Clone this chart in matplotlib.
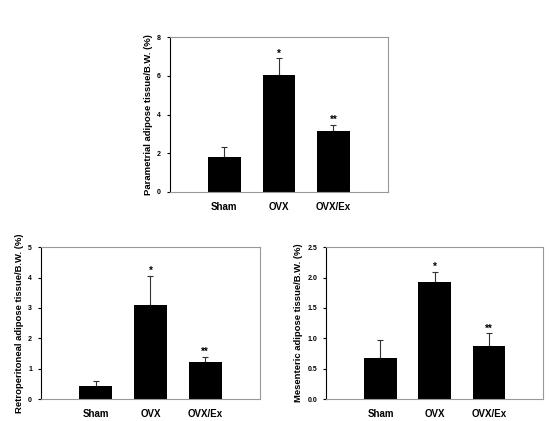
import matplotlib
matplotlib.use("Agg")
import matplotlib.pyplot as plt

groups = ["Sham", "OVX", "OVX/Ex"]
marks = ["", "*", "**"]

para_vals = [1.8, 6.05, 3.15]
para_err = [0.5, 0.85, 0.3]
retro_vals = [0.42, 3.08, 1.23]
retro_err = [0.18, 0.97, 0.15]
mes_vals = [0.67, 1.92, 0.88]
mes_err = [0.31, 0.17, 0.2]

plt.rcParams['font.family'] = ['Liberation Sans', 'DejaVu Sans']

fig = plt.figure(figsize=(5.5, 4.21), dpi=100)

def panel(rect, vals, errs, ylabel, ymax, yticks, yticklabels):
    ax = fig.add_axes(rect)
    x = list(range(len(groups)))
    ax.bar(x, vals, width=0.6, color='black', zorder=2)
    ax.errorbar(x, vals, yerr=[[0]*len(errs), errs], fmt='none', ecolor='#333333',
                elinewidth=0.8, capsize=2.5, capthick=0.8, zorder=1)
    for xi, v, e, m in zip(x, vals, errs, marks):
        if m:
            ax.text(xi, v + e, m, ha='center', va='bottom', fontsize=7, fontweight='bold')
    ax.set_xlim(-1, 3)
    ax.set_ylim(0, ymax)
    ax.set_xticks(x)
    ax.set_xticklabels(groups, fontsize=7, fontweight='bold')
    ax.tick_params(axis='x', length=0, pad=7)
    ax.set_yticks(yticks)
    ax.set_yticklabels(yticklabels, fontsize=5, fontweight='bold')
    ax.tick_params(axis='y', length=2.5, width=0.8, direction='out', pad=4)
    ax.set_ylabel(ylabel, fontsize=6.8, fontweight='bold', labelpad=3)
    ax.spines['left'].set_color('black')
    ax.spines['left'].set_linewidth(0.8)
    for s in ['top', 'right', 'bottom']:
        ax.spines[s].set_color('#999999')
        ax.spines[s].set_linewidth(0.8)
    return ax

panel([0.309, 0.544, 0.396, 0.368], para_vals, para_err,
      "Parametrial adipose tissue/B.W. (%)", 8, [0, 2, 4, 6, 8], ["0", "2", "4", "6", "8"])
panel([0.0745, 0.052, 0.398, 0.361], retro_vals, retro_err,
      "Retroperitoneal adipose tissue/B.W. (%)", 5, [0, 1, 2, 3, 4, 5], ["0", "1", "2", "3", "4", "5"])
panel([0.593, 0.052, 0.395, 0.361], mes_vals, mes_err,
      "Mesenteric adipose tissue/B.W. (%)", 2.5, [0, 0.5, 1.0, 1.5, 2.0, 2.5],
      ["0.0", "0.5", "1.0", "1.5", "2.0", "2.5"])

fig.savefig("out.png", dpi=100)
